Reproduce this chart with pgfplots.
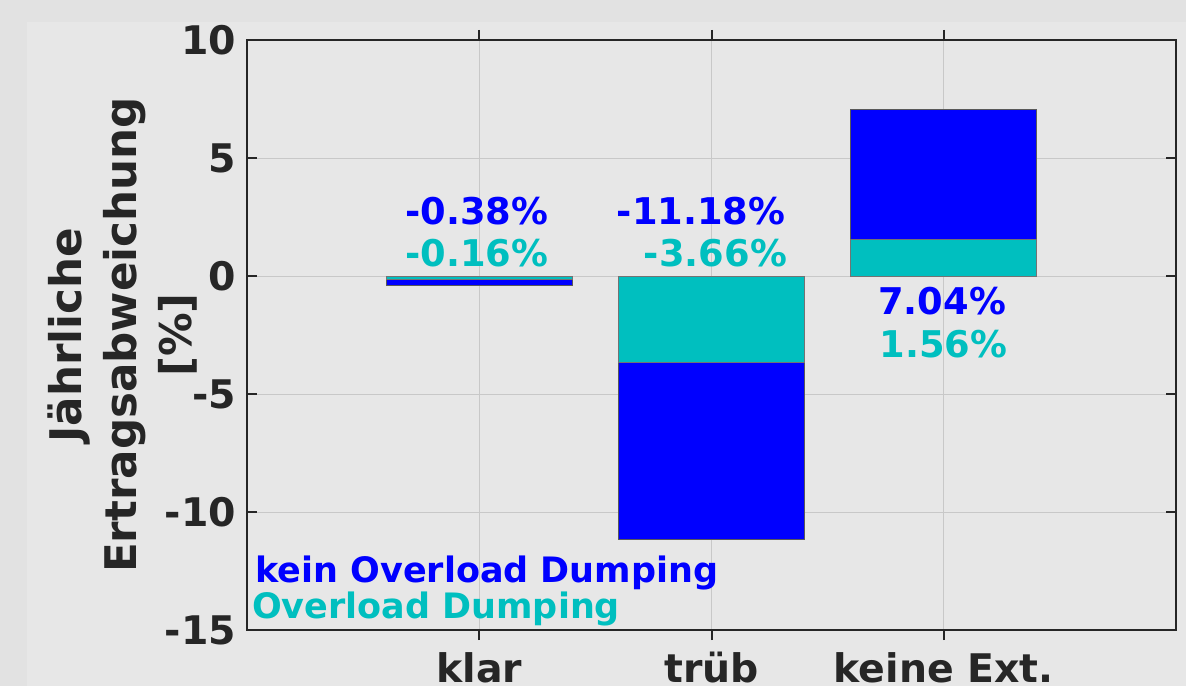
\documentclass[border=0pt]{standalone}
\usepackage{pgfplots}
\pgfplotsset{compat=1.18}
\usepackage{fontspec}
\setmainfont{DejaVu Sans}
\definecolor{mblue}{RGB}{0,0,255}
\definecolor{mcyan}{RGB}{0,191,191}
\definecolor{axgray}{RGB}{38,38,38}
\definecolor{gridgray}{RGB}{200,200,200}
\definecolor{outerbg}{RGB}{226,226,226}
\definecolor{figbg}{RGB}{231,231,231}
\newcommand{\lf}{\fontsize{17.5}{21}\selectfont\bfseries}
\newcommand{\barf}{\fontsize{18.4}{22}\selectfont\bfseries}
\newcommand{\tickf}{\fontsize{19.7}{23}\selectfont\bfseries}
\begin{document}
\begin{tikzpicture}
\fill[outerbg] (-123.5pt,-28pt) rectangle (469.5pt,315pt);
\fill[figbg] (-110pt,-28pt) rectangle (469.5pt,304pt);
\useasboundingbox (-123.5pt,-28pt) rectangle (469.5pt,315pt);
\begin{axis}[
  at={(0,0)}, anchor=south west, scale only axis,
  width=464.5pt, height=295pt,
  xmin=0, xmax=4, ymin=-15, ymax=10,
  xtick={1,2,3}, xticklabels={klar,trüb,keine Ext.},
  ytick={-15,-10,-5,0,5,10}, yticklabels={-15,-10,-5,0,5,10},
  tick align=inside, major tick length=5pt,
  grid=major, grid style={gridgray, line width=0.5pt},
  axis line style={axgray, line width=1pt},
  major tick style={axgray, line width=1pt},
  ticklabel style={font=\tickf, text=axgray},
  xticklabel style={anchor=base, yshift=-21.3pt, inner sep=0pt},
  yticklabel style={xshift=-2pt},
  ybar, bar width=0.8, bar shift=0pt,
  clip=false,
]
\addplot[fill=mblue, draw=black!65, line width=0.4pt] coordinates {(1,-0.38) (2,-11.18) (3,7.04)};
\addplot[fill=mcyan, draw=black!55, line width=0.4pt] coordinates {(1,-0.16) (2,-3.66) (3,1.56)};
\node[text=mblue, font=\barf, inner sep=0pt] at (axis cs:0.989,2.75) {-0.38\%};
\node[text=mcyan, font=\barf, inner sep=0pt] at (axis cs:0.99,0.97) {-0.16\%};
\node[text=mblue, font=\barf, inner sep=0pt] at (axis cs:1.955,2.75) {-11.18\%};
\node[text=mcyan, font=\barf, inner sep=0pt] at (axis cs:2.017,0.97) {-3.66\%};
\node[text=mblue, font=\barf, inner sep=0pt] at (axis cs:2.993,-1.06) {7.04\%};
\node[text=mcyan, font=\barf, inner sep=0pt] at (axis cs:2.998,-2.88) {1.56\%};
\node[anchor=base west, text=mblue, font=\lf, inner sep=0pt] at (axis cs:0.034,-13.0) {kein Overload Dumping};
\node[anchor=base west, text=mcyan, font=\lf, inner sep=0pt] at (axis cs:0.02,-14.53) {Overload Dumping};
\end{axis}
\node[rotate=90, align=center, text=axgray, font=\fontsize{21.8}{27.5}\selectfont\bfseries] at (-62pt,147.5pt) {Jährliche\\Ertragsabweichung\\{}[\%]};
\end{tikzpicture}
\end{document}
